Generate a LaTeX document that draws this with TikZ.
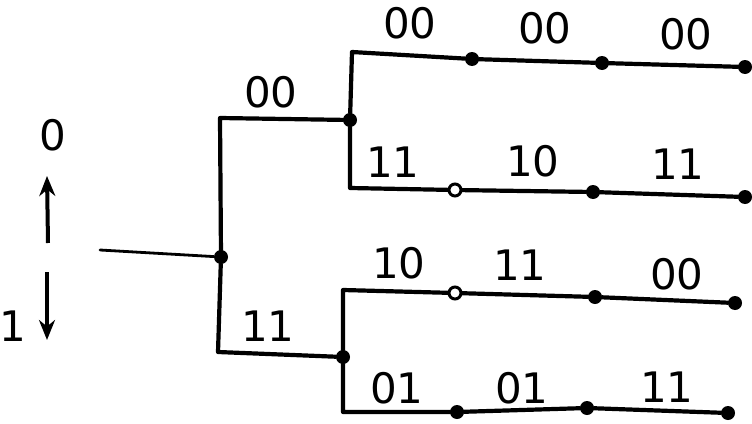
\documentclass[tikz,border=0pt]{standalone}
\usepackage{fontspec}
\setmainfont{DejaVu Sans}
\usetikzlibrary{arrows.meta}
\begin{document}
\begin{tikzpicture}[x=1pt,y=-1pt,
  wire/.style={line width=4.2pt, line cap=round, line join=round},
  feed/.style={line width=2.8pt, line cap=round},
  dotf/.style={circle,fill,inner sep=0pt,minimum size=14pt},
  doto/.style={circle,draw,line width=3pt,fill=white,inner sep=0pt,minimum size=12pt},
  lab/.style={font=\fontsize{42}{42}\selectfont, inner sep=0pt, yshift=5pt},
  arr/.style={line width=4pt, -{Stealth[length=20pt,width=16pt]}}]
\useasboundingbox (0,0) rectangle (752,423);

% direction legend
\node[lab] (zero) at (53,140) {0};
\node[lab] (one) at (13,331) {1};
\coordinate (ua) at (48,243);
\coordinate (ub) at (47,176);
\coordinate (da) at (47,272);
\coordinate (db) at (47,340);
\draw[arr] (ua) -- (ub);
\draw[arr] (da) -- (db);

% root
\coordinate (in) at (100,250);
\node[dotf] (root) at (221,257) {};
\coordinate (ct) at (220,118);
\coordinate (cb) at (218,352);
\node[dotf] (n0) at (350,120) {};
\node[dotf] (n1) at (343,357) {};
\draw[feed] (in) -- (root);
\draw[wire] (root) -- (ct) -- (n0);
\draw[wire] (root) -- (cb) -- (n1);
\node[lab] (l0) at (271,97) {00};
\node[lab] (l1) at (268,331) {11};

% branch 00
\coordinate (a0) at (352,52);
\coordinate (b0) at (350,188);
\node[dotf] (a1) at (472,59) {};
\node[dotf] (a2) at (602,63) {};
\node[dotf] (a3) at (745,67) {};
\node[doto] (b1) at (455,190) {};
\node[dotf] (b2) at (593,192) {};
\node[dotf] (b3) at (745,197) {};
\draw[wire] (n0) -- (a0) -- (a1) -- (a2) -- (a3);
\draw[wire] (n0) -- (b0) -- (b1) -- (b2) -- (b3);
\node[lab] at (410,28) {00};
\node[lab] at (545,33) {00};
\node[lab] at (686,39) {00};
\node[lab] at (393,167) {11};
\node[lab] at (533,166) {10};
\node[lab] at (678,169) {11};

% branch 11
\coordinate (c0) at (343,290);
\coordinate (d0) at (343,412);
\node[doto] (c1) at (455,293) {};
\node[dotf] (c2) at (595,297) {};
\node[dotf] (c3) at (735,303) {};
\node[dotf] (d1) at (457,412) {};
\node[dotf] (d2) at (587,408) {};
\node[dotf] (d3) at (728,413) {};
\draw[wire] (n1) -- (c0) -- (c1) -- (c2) -- (c3);
\draw[wire] (n1) -- (d0) -- (d1) -- (d2) -- (d3);
\node[lab] at (399,268) {10};
\node[lab] at (520,270) {11};
\node[lab] at (677,279) {00};
\node[lab] at (397,393) {01};
\node[lab] at (522,393) {01};
\node[lab] at (667,392) {11};
\end{tikzpicture}
\end{document}
